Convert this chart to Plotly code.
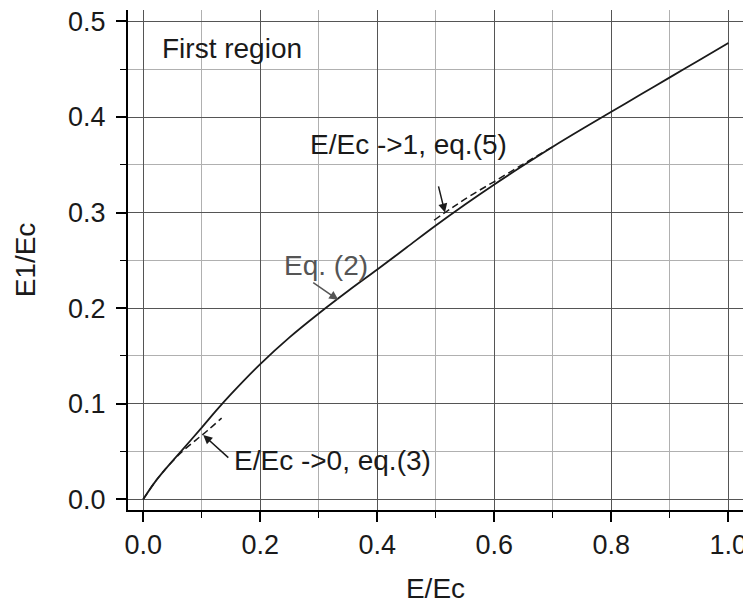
import plotly.graph_objects as go

# Eq. (2): full solution (solid)
x_eq2 = [0.0, 0.02, 0.04, 0.065, 0.1, 0.125, 0.15, 0.2, 0.25, 0.3, 0.35, 0.4, 0.45,
         0.5, 0.55, 0.6, 0.65, 0.7, 0.75, 0.8, 0.85, 0.9, 0.95, 1.0]
y_eq2 = [0.0, 0.018, 0.033, 0.0505, 0.075, 0.093, 0.110, 0.1415, 0.1695, 0.1945, 0.218, 0.2405, 0.2635,
         0.2865, 0.3085, 0.3295, 0.3495, 0.369, 0.3875, 0.4055, 0.4235, 0.4415, 0.4595, 0.4775]

# Eq. (3): E/Ec -> 0 asymptote (dashed)
x_eq3 = [0.0, 0.02, 0.04, 0.065, 0.09, 0.11, 0.134]
y_eq3 = [0.0, 0.018, 0.033, 0.049, 0.062, 0.072, 0.085]

# Eq. (5): E/Ec -> 1 asymptote (dashed)
x_eq5 = [0.497, 0.53, 0.56, 0.6, 0.65, 0.7]
y_eq5 = [0.292, 0.306, 0.318, 0.3325, 0.351, 0.369]

x_ticks = [0.0, 0.2, 0.4, 0.6, 0.8, 1.0]
y_ticks = [0.0, 0.1, 0.2, 0.3, 0.4, 0.5]

FONT = "Liberation Sans, Arial, sans-serif"
INK = "#1a1a1a"

fig = go.Figure()
fig.add_trace(go.Scatter(x=x_eq2, y=y_eq2, mode="lines", line=dict(color=INK, width=1.8),
                         showlegend=False, line_shape="spline"))
fig.add_trace(go.Scatter(x=x_eq3, y=y_eq3, mode="lines", line=dict(color=INK, width=1.5, dash="7px,4px"),
                         showlegend=False, line_shape="spline"))
fig.add_trace(go.Scatter(x=x_eq5, y=y_eq5, mode="lines", line=dict(color=INK, width=1.5, dash="7px,4px"),
                         showlegend=False, line_shape="spline"))

texts = [
    dict(text="First region", x=0.0285, y=0.4717, xanchor="left", color=INK),
    dict(text="E/Ec ->1, eq.(5)", x=0.4525, y=0.371, xanchor="center", color=INK),
    dict(text="Eq. (2)", x=0.313, y=0.2443, xanchor="center", color="#555555"),
    dict(text="E/Ec ->0, eq.(3)", x=0.324, y=0.0401, xanchor="center", color=INK),
]
for t in texts:
    fig.add_annotation(x=t["x"], y=t["y"], xref="x", yref="y", text=t["text"], showarrow=False,
                       xanchor=t["xanchor"], yanchor="middle",
                       font=dict(family=FONT, size=28, color=t["color"]))

arrows = [
    # (tail x, tail y, tip x, tip y, colour)
    (0.148, 0.0422, 0.1026, 0.0673, INK),
    (0.288, 0.2279, 0.3333, 0.2087, "#555555"),
    (0.504, 0.329, 0.5157, 0.300, INK),
]
for ax_, ay_, x_, y_, c in arrows:
    fig.add_annotation(x=x_, y=y_, ax=ax_, ay=ay_, xref="x", yref="y", axref="x", ayref="y",
                       text="", showarrow=True, arrowhead=2, arrowsize=1.2, arrowwidth=1.5,
                       arrowcolor=c, standoff=0, startstandoff=0)

# the page places the figure 8 px in from the top-left corner, so the figure is 8 px smaller
fig.update_layout(
    width=743, height=597,
    margin=dict(l=120, r=8, t=2, b=95),
    paper_bgcolor="white", plot_bgcolor="white",
    font=dict(family=FONT, size=27, color=INK),
    showlegend=False,
)
fig.update_xaxes(
    range=[-0.026, 1.025], tickvals=x_ticks, ticktext=[f"{v:.1f}" for v in x_ticks],
    automargin=False, ticklabeloverflow="allow",
    showline=True, linecolor="black", linewidth=2, zeroline=False,
    showgrid=True, gridcolor="#555555", gridwidth=1.4,
    ticks="outside", ticklen=10, tickwidth=1.6, tickcolor="black",
    tickfont=dict(family=FONT, size=27, color=INK), ticklabelstandoff=0,
    minor=dict(dtick=0.1, tick0=0, showgrid=True, gridcolor="#b0b0b0", gridwidth=1.1,
               ticks="outside", ticklen=6, tickwidth=1.4, tickcolor="black"),
    title=dict(text="E/Ec", font=dict(family=FONT, size=28, color=INK), standoff=19),
)
fig.update_yaxes(
    range=[-0.0112, 0.512], tickvals=y_ticks, ticktext=[f"{v:.1f}" for v in y_ticks],
    automargin=False, ticklabeloverflow="allow",
    showline=True, linecolor="black", linewidth=2, zeroline=False,
    showgrid=True, gridcolor="#555555", gridwidth=1.4,
    ticks="outside", ticklen=10, tickwidth=1.6, tickcolor="black",
    tickfont=dict(family=FONT, size=27, color=INK), ticklabelstandoff=5,
    minor=dict(dtick=0.05, tick0=0, showgrid=True, gridcolor="#b0b0b0", gridwidth=1.1,
               ticks="outside", ticklen=6, tickwidth=1.4, tickcolor="black"),
    title=dict(text="E1/Ec", font=dict(family=FONT, size=28, color=INK), standoff=24),
)

fig.write_html("out.html")
